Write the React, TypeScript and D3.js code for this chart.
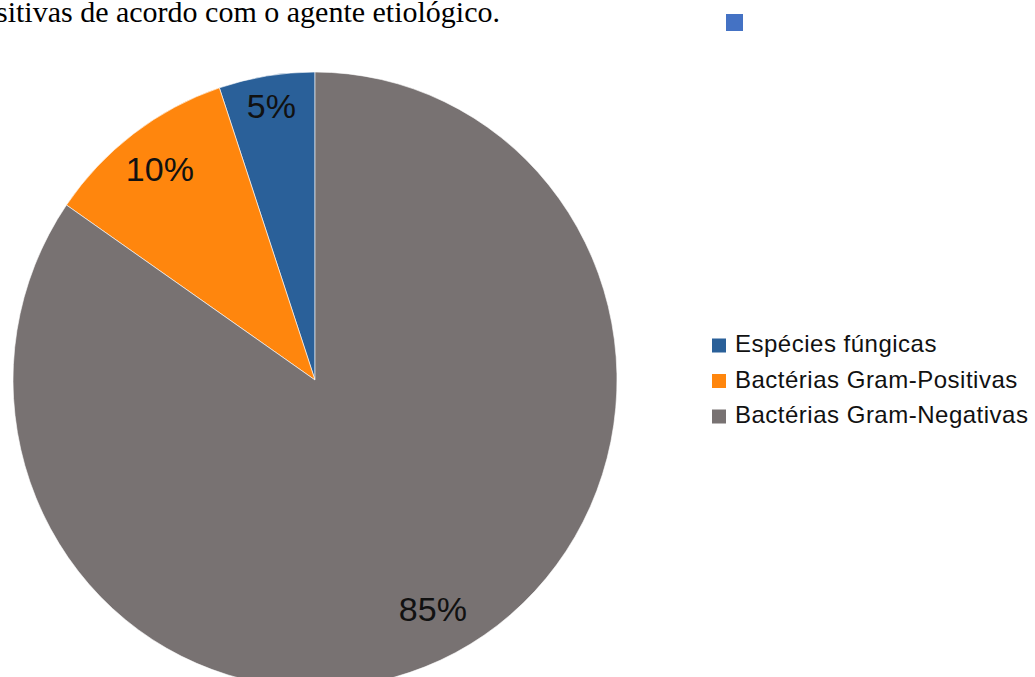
import React from "react";
import * as d3 from "d3";

const categories = ["Espécies fúngicas", "Bactérias Gram-Positivas", "Bactérias Gram-Negativas"];
const counts = [2, 4, 33];
const colors = ["#2a6099", "#ff860d", "#787272"];
const titleText = "sitivas de acordo com o agente etiológico.";

// label distance from centre, as a fraction of the radius, per slice
const labelRadiusFactor = [0.9, 0.855, 0.84];

const W = 1035;
const H = 677;

export default function App() {
  const cx = 315;
  const cy = 380;
  const rx = 302;
  const ry = 308;
  const ky = ry / rx;
  const total = d3.sum(counts);
  const data = categories.map((c, i) => ({ name: c, value: counts[i], color: colors[i] }));
  const pie = d3
    .pie<any>()
    .sort(null)
    .value((d) => d.value)
    .startAngle(0)
    .endAngle(-2 * Math.PI);
  const arcs = pie(data);
  const arc = d3.arc<any>().innerRadius(0).outerRadius(rx);

  return (
    <svg
      width={W}
      height={H}
      style={{ position: "absolute", left: 0, top: 0, background: "#fff" }}
    >
      <text
        x={-4}
        y={22}
        fontFamily="'Liberation Serif', 'Times New Roman', serif"
        fontSize={30}
        fill="#000"
      >
        {titleText}
      </text>
      <rect x={726} y={14} width={17} height={17} fill="#4472c4" />
      <g transform={`translate(${cx},${cy}) scale(1,${ky})`}>
        {arcs.map((a, i) => (
          <path
            key={i}
            d={arc(a) as string}
            fill={a.data.color}
            stroke="#fff"
            strokeWidth={0.6}
            vectorEffect="non-scaling-stroke"
          />
        ))}
      </g>
      <g transform={`translate(${cx},${cy})`}>
        {arcs.map((a, i) => {
          const f = labelRadiusFactor[i];
          const la = d3.arc<any>().innerRadius(rx * f).outerRadius(rx * f);
          const [lx, ly] = la.centroid(a);
          return (
            <text
              key={"l" + i}
              x={lx}
              y={ly * ky}
              textAnchor="middle"
              dominantBaseline="central"
              fontFamily="'Liberation Sans', Arial, sans-serif"
              fontSize={34}
              fill="#111"
            >
              {Math.round((a.data.value / total) * 100) + "%"}
            </text>
          );
        })}
      </g>
      <g fontFamily="'Liberation Sans', Arial, sans-serif" fontSize={24} fill="#111" letterSpacing={0.5}>
        {data.map((d, i) => (
          <g key={i} transform={`translate(712,${338.5 + i * 35.5})`}>
            <rect x={0} y={0} width={14} height={14} fill={d.color} />
            <text x={23} y={13.5}>
              {d.name}
            </text>
          </g>
        ))}
      </g>
    </svg>
  );
}
